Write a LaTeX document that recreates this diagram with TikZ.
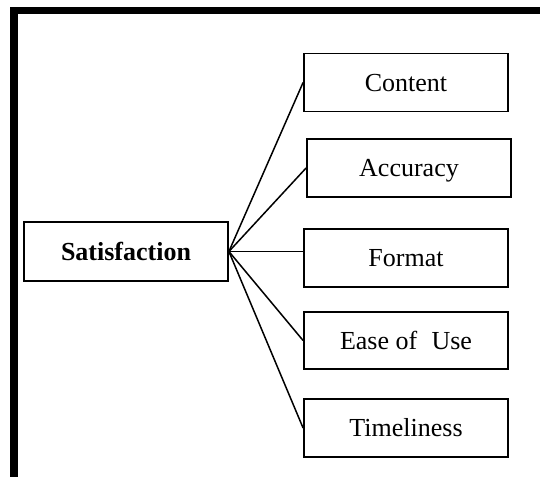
\documentclass[tikz,border=0pt]{standalone}
\usepackage{fontspec}
\setmainfont{Liberation Serif}
\begin{document}
\begin{tikzpicture}[x=1pt,y=-1pt,
  itembox/.style={draw=black, line width=1.8pt, fill=white, minimum width=204pt, minimum height=58pt,
    inner sep=0pt, text height=17.5pt, text depth=0pt, font=\fontsize{26}{30}\selectfont},
  link/.style={draw=black, line width=1.5pt},
  frame/.style={draw=black, line width=7.5pt}]
\useasboundingbox (0,0) rectangle (540,476);
\clip (0,0) rectangle (540,476);
\fill[white] (0,0) rectangle (540,476);
\draw[frame] (14,500) -- (14,10.5) -- (560,10.5);

\node[itembox, minimum height=59pt, font=\fontsize{26}{30}\selectfont\bfseries] (sat) at (126,251.5) {Satisfaction};
\node[itembox] (content) at (406,82.5) {Content};
\node[itembox] (accuracy) at (409,168) {Accuracy};
\node[itembox] (format) at (406,258) {Format};
\node[itembox, minimum height=57pt] (ease) at (406,340.5) {Ease of\hspace{0.55em}Use};
\node[itembox] (time) at (406,428) {Timeliness};

\draw[link] (sat.east) -- (content.west);
\draw[link] (sat.east) -- (accuracy.west);
\draw[link] (sat.east) -- (format.west |- sat.east);
\draw[link] (sat.east) -- (ease.west);
\draw[link] (sat.east) -- (time.west);
\end{tikzpicture}
\end{document}
